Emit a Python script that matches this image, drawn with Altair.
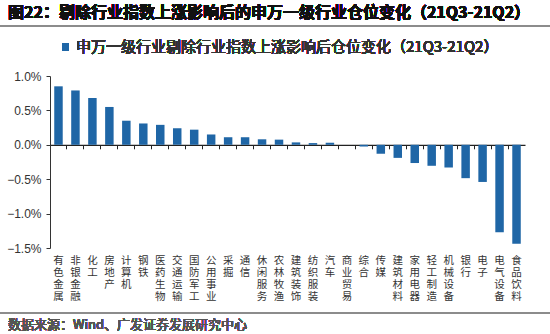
import altair as alt
import pandas as pd

categories = ["有色金属", "非银金融", "化工", "房地产", "计算机", "钢铁", "医药生物", "交通运输",
              "国防军工", "公用事业", "采掘", "通信", "休闲服务", "农林牧渔", "建筑装饰", "纺织服装",
              "汽车", "商业贸易", "综合", "传媒", "建筑材料", "家用电器", "轻工制造", "机械设备",
              "银行", "电子", "电气设备", "食品饮料"]
values = [0.85, 0.79, 0.68, 0.55, 0.35, 0.31, 0.29, 0.24,
          0.22, 0.15, 0.11, 0.11, 0.08, 0.075, 0.035, 0.025,
          0.03, 0.0, -0.025, -0.13, -0.19, -0.265, -0.305, -0.33,
          -0.485, -0.54, -1.27, -1.44]
y_ticks = [-1.5, -1.0, -0.5, 0.0, 0.5, 1.0]

title_text = "图22：剔除行业指数上涨影响后的申万一级行业仓位变化（21Q3-21Q2）"
legend_text = "申万一级行业剔除行业指数上涨影响后仓位变化（21Q3-21Q2）"
source_text = "数据来源：Wind、广发证券发展研究中心"

BLUE = "#1f66a6"
W, H = 475, 172
FONT = "Noto Sans CJK SC"

df = pd.DataFrame({"cat": categories, "val": values})

xscale = alt.Scale(domain=categories, paddingInner=0, paddingOuter=0)
yscale = alt.Scale(domain=[-1.5, 1.0], nice=False, zero=False)

bars = alt.Chart(df).mark_bar(color=BLUE, width=alt.RelativeBandSize(0.5)).encode(
    x=alt.X("cat:N", sort=categories, scale=xscale,
            axis=alt.Axis(orient="bottom", title=None, domain=False, ticks=False,
                          labelAngle=0, labelExpr="split(datum.label, '')",
                          labelBaseline="top", labelPadding=7, labelFontSize=10.5,
                          labelLineHeight=12, labelFont=FONT, labelColor="#333333")),
    y=alt.Y("val:Q", scale=yscale,
            axis=alt.Axis(title=None, values=y_ticks, grid=False,
                          labelExpr="format(datum.value, '.1f') + '%'",
                          labelFont="Liberation Sans", labelFontSize=12,
                          labelColor="#333333", domainColor="#333333",
                          tickColor="#333333", tickSize=4, labelPadding=5)),
)

zero_axis = alt.Chart(df).mark_rule(opacity=0).encode(
    x=alt.X("cat:N", sort=categories, scale=xscale,
            axis=alt.Axis(orient="bottom", title=None, labels=False,
                          offset=-(H * 1.5 / 2.5), bandPosition=0,
                          domainColor="#222222", tickColor="#222222",
                          tickSize=4, domainWidth=1.2)),
    y=alt.value(0),
)

title = alt.Chart(df).mark_text(align="left", baseline="middle", fontSize=16,
                                fontWeight="bold", font=FONT, color="#111111").encode(
    x=alt.value(-42), y=alt.value(-63), text=alt.value(title_text))

title_line = alt.Chart(df).mark_rule(color="#8c8c8c", strokeWidth=2).encode(
    x=alt.value(-50), x2=alt.value(500), y=alt.value(-50))

legend_sq = alt.Chart(df).mark_square(color=BLUE, opacity=1, size=49).encode(
    x=alt.value(15.5), y=alt.value(-29))
legend_tx = alt.Chart(df).mark_text(align="left", baseline="middle", fontSize=15,
                                    font=FONT, color="#333333").encode(
    x=alt.value(26), y=alt.value(-29), text=alt.value(legend_text))

bottom_line = alt.Chart(df).mark_rule(color="#8c8c8c", strokeWidth=1.5).encode(
    x=alt.value(-50), x2=alt.value(500), y=alt.value(237))
source = alt.Chart(df).mark_text(align="left", baseline="middle", fontSize=13,
                                 font=FONT, color="#555555").encode(
    x=alt.value(-42), y=alt.value(249), text=alt.value(source_text))

chart = alt.layer(bars, zero_axis, title, title_line, legend_sq, legend_tx,
                  bottom_line, source).resolve_axis(x="independent").properties(
    width=W, height=H,
    autosize=alt.AutoSizeParams(type="none"),
    padding={"left": 50, "top": 76, "right": 25, "bottom": 86},
).configure_view(stroke=None)

chart.save("out.html", embed_options={"renderer": "svg", "actions": False})
